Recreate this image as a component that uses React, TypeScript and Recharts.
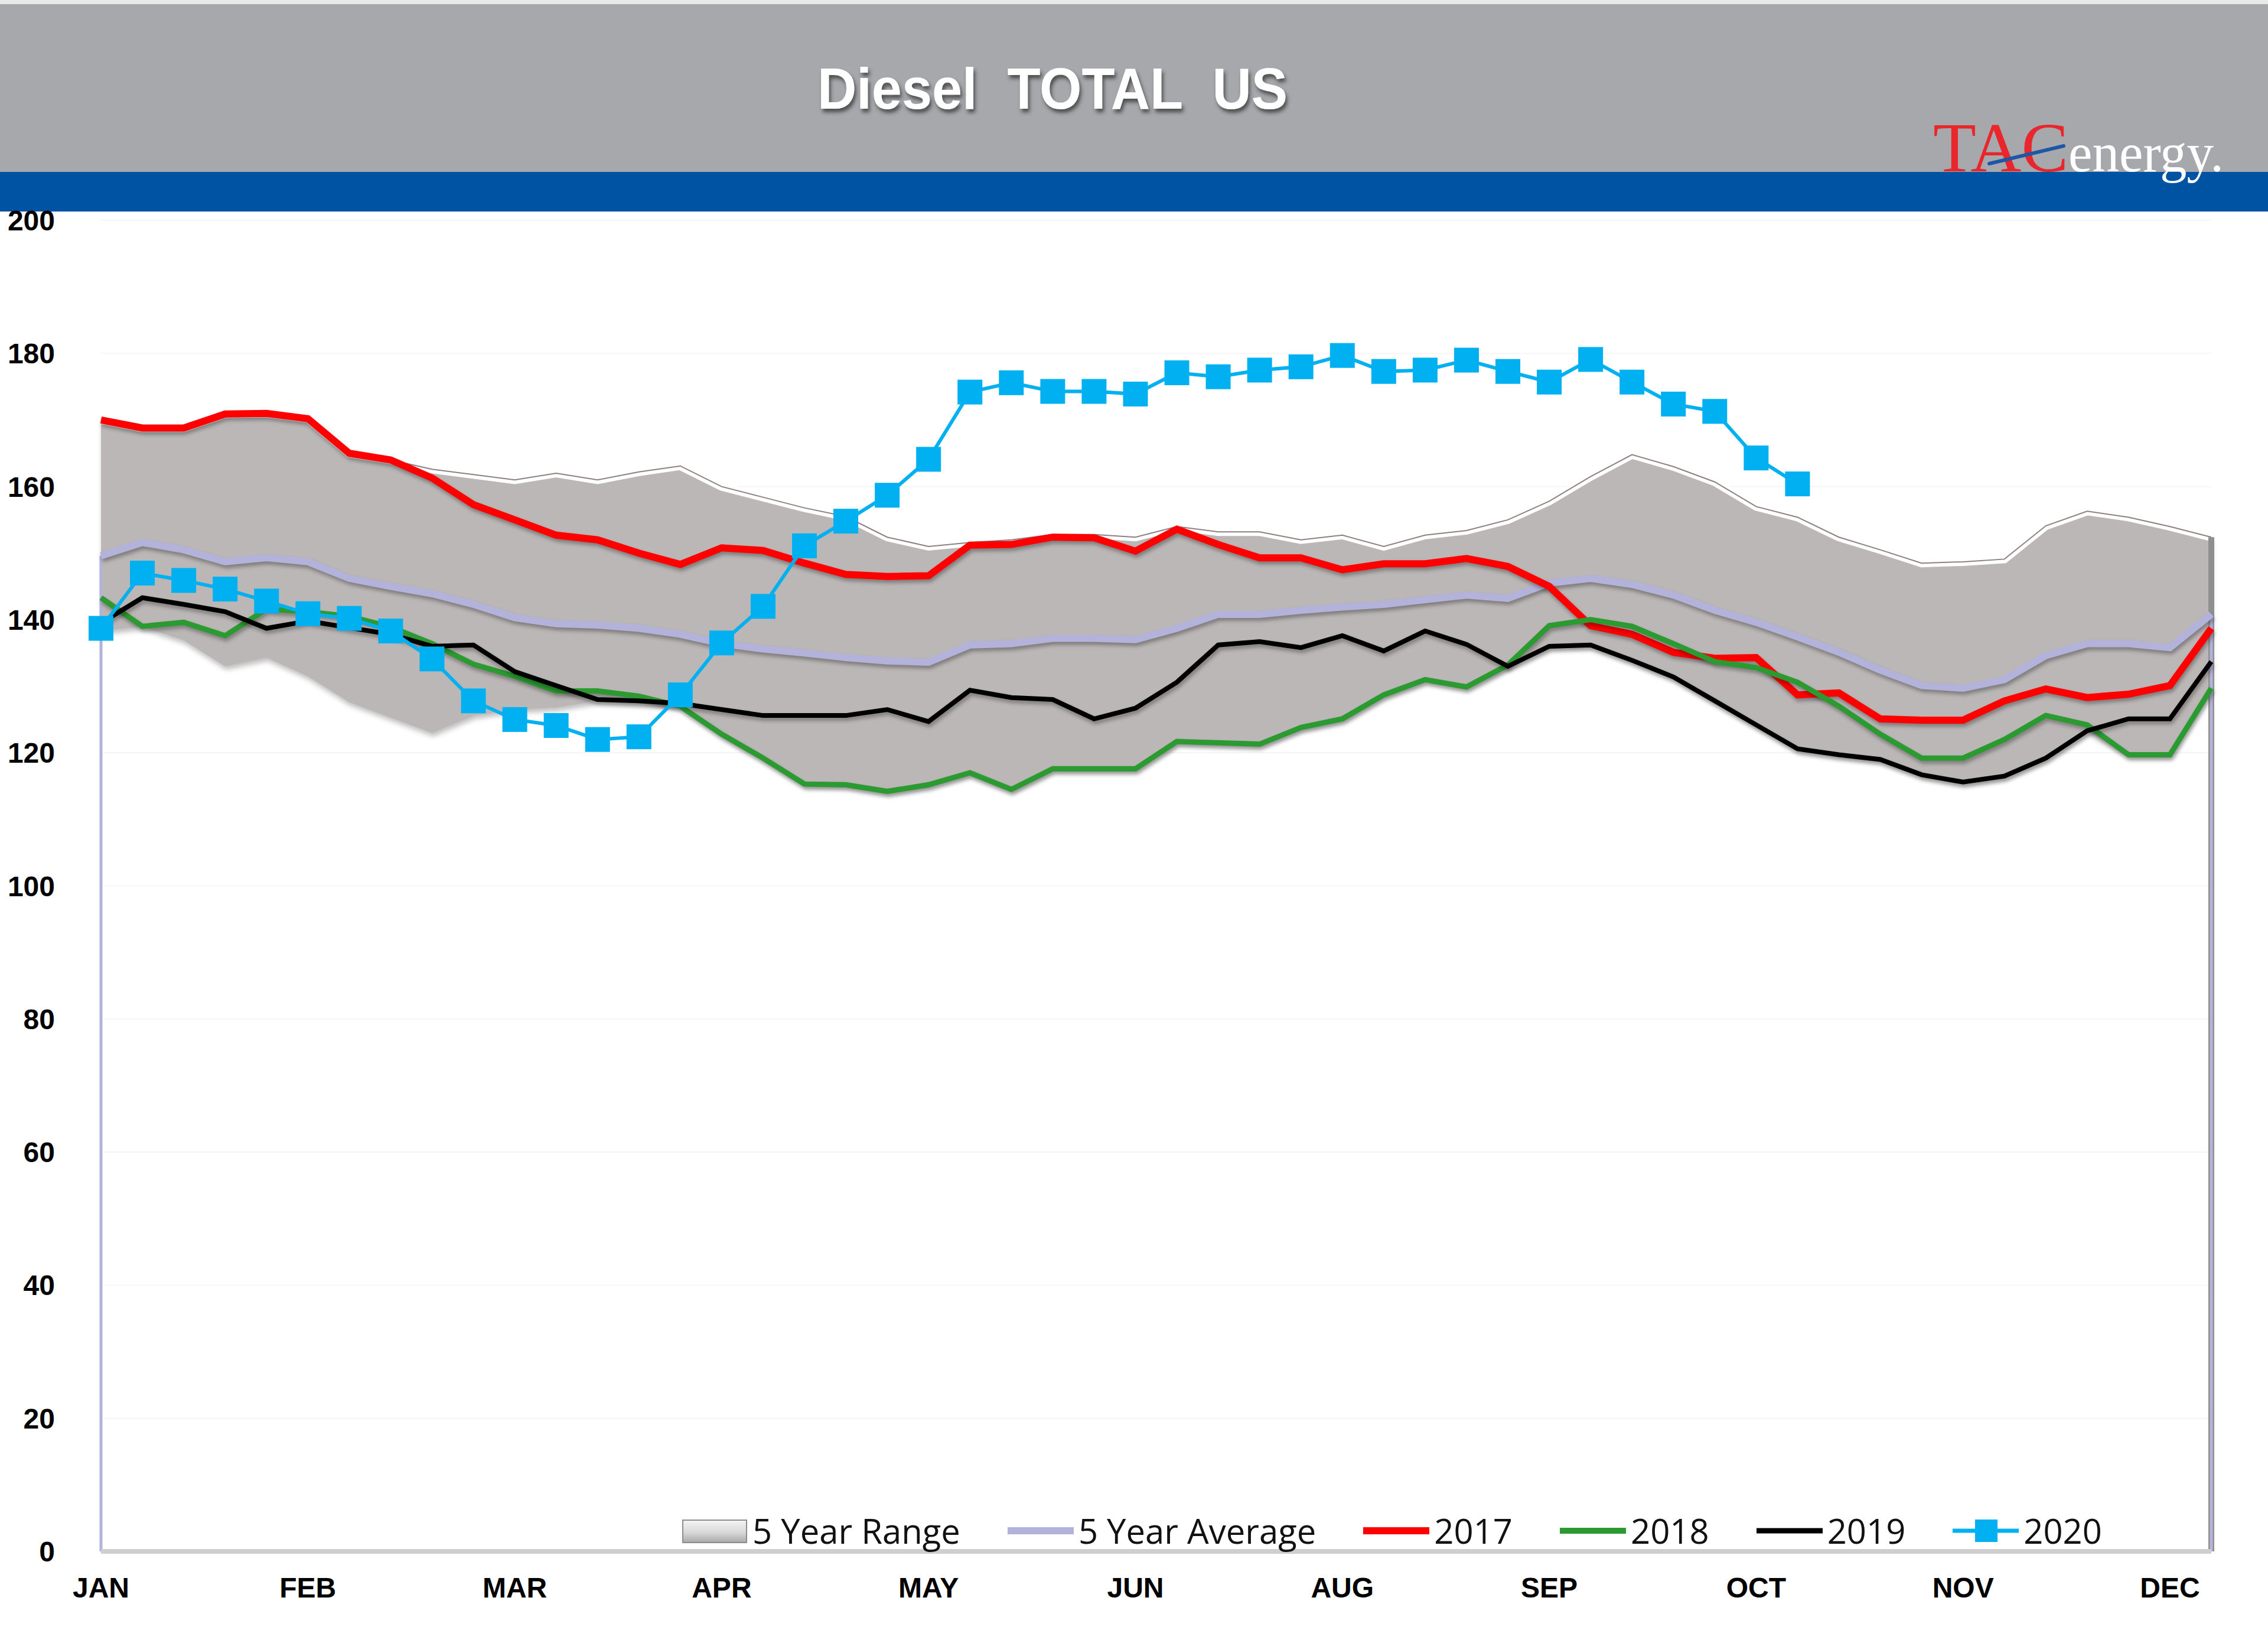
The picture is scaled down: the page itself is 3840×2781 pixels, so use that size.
import React from "react";
import {
  ComposedChart,
  Area,
  Line,
  XAxis,
  YAxis,
  CartesianGrid,
  Legend,
  ReferenceLine,
} from "recharts";

// ---------- DATA ----------
const weeks = [
  1, 2, 3, 4, 5, 6, 7, 8, 9, 10, 11, 12, 13, 14, 15, 16, 17, 18, 19, 20, 21, 22, 23, 24, 25, 26,
  27, 28, 29, 30, 31, 32, 33, 34, 35, 36, 37, 38, 39, 40, 41, 42, 43, 44, 45, 46, 47, 48, 49, 50, 51, 52,
];
const monthLabels = ["JAN", "FEB", "MAR", "APR", "MAY", "JUN", "AUG", "SEP", "OCT", "NOV", "DEC"];
const yTicks = [0, 20, 40, 60, 80, 100, 120, 140, 160, 180, 200];

const rangeLow = [
  138.3, 139, 136.9, 133, 134.3, 131.5, 127.6, 125.3, 123, 125.6, 126.5, 126.8, 127.8, 127.5, 127,
  122.8, 119.2, 115.3, 115.2, 114.2, 115.2, 117, 114.5, 117.6, 117.6, 117.6, 121.7, 121.5, 121.3,
  123.8, 125.1, 128.7, 131, 129.9, 133, 136, 136.2, 133.9, 131.4, 127.8, 124.2, 120.6, 119.7, 119,
  116.7, 115.6, 116.5, 119.2, 123.3, 119.7, 119.7, 129.7,
];
const rangeHigh = [
  170, 168.8, 168.8, 170.9, 171, 170.2, 165, 164, 162.6, 161.8, 161, 162, 161, 162.2, 163.1, 160,
  158.4, 156.8, 155.5, 152.4, 151, 151.6, 152, 152.8, 152.8, 152.4, 154, 153.2, 153.2, 152, 152.7,
  151, 152.7, 153.4, 155, 157.8, 161.5, 164.8, 163, 160.7, 157, 155.4, 152.4, 150.5, 148.5, 148.7,
  149.1, 154.1, 156.3, 155.4, 154, 152.4,
];
const avg5 = [
  149.6, 151.6, 150.5, 148.7, 149.3, 148.7, 146.2, 145, 143.9, 142.3, 140.3, 139.4, 139.2, 138.7,
  137.8, 136.4, 135.6, 135, 134.3, 133.8, 133.6, 136.2, 136.4, 137.2, 137.2, 137, 138.7, 140.8,
  140.8, 141.4, 141.9, 142.3, 143, 143.7, 143.2, 145.5, 146.2, 145.3, 143.7, 141.4, 139.6, 137.4,
  135.1, 132.4, 130.1, 129.7, 131, 134.6, 136.4, 136.4, 135.8, 140.8,
];
const s2017 = [
  170, 168.8, 168.8, 170.9, 171, 170.2, 165, 164, 161.3, 157.3, 155, 152.7, 152, 150, 148.3, 150.8,
  150.4, 148.5, 146.8, 146.5, 146.6, 151.2, 151.3, 152.4, 152.3, 150.3, 153.6, 151.3, 149.3, 149.3,
  147.5, 148.4, 148.4, 149.2, 148, 145, 139.1, 137.8, 135.1, 134.2, 134.3, 128.7, 129, 125.1, 124.9,
  124.9, 127.8, 129.6, 128.3, 128.8, 130.1, 138.7,
];
const s2018 = [
  143.3, 139, 139.6, 137.6, 141.6, 141.2, 140.5, 138.9, 136.4, 133.3, 131.5, 129.3, 129.3, 128.5,
  127, 122.8, 119.2, 115.3, 115.2, 114.2, 115.2, 117, 114.5, 117.6, 117.6, 117.6, 121.7, 121.5,
  121.3, 123.8, 125.1, 128.7, 131, 129.9, 133.2, 139.1, 140, 139, 136.4, 133.7, 132.8, 130.6, 127,
  122.8, 119.2, 119.2, 122, 125.6, 124.2, 119.7, 119.7, 129.7,
];
const s2019 = [
  139.5, 143.3, 142.3, 141.2, 138.7, 139.8, 138.8, 137.8, 136, 136.2, 132.2, 130.1, 128, 127.8,
  127.4, 126.5, 125.6, 125.6, 125.6, 126.5, 124.7, 129.4, 128.3, 128, 125.1, 126.7, 130.6, 136.2,
  136.7, 135.8, 137.6, 135.3, 138.3, 136.3, 133, 136, 136.2, 133.9, 131.4, 127.8, 124.2, 120.6,
  119.7, 119, 116.7, 115.6, 116.5, 119.2, 123.3, 125.1, 125.1, 133.7,
];
const s2020 = [
  138.7, 147, 145.9, 144.6, 142.8, 140.9, 140.2, 138.3, 134.1, 127.8, 125, 124.1, 122, 122.4, 128.7,
  136.5, 142, 151.1, 154.8, 158.7, 164.1, 174.2, 175.6, 174.3, 174.3, 173.9, 177.1, 176.5, 177.5,
  178, 179.7, 177.3, 177.5, 179, 177.3, 175.7, 179.1, 175.7, 172.4, 171.3, 164.3, 160.4,
];

const seriesNames = ["5 Year Range", "5 Year Average", "2017", "2018", "2019", "2020"];

const data = weeks.map((w, i) => ({
  week: w,
  range: [rangeLow[i], rangeHigh[i]],
  high: rangeHigh[i],
  avg: avg5[i],
  y2017: s2017[i],
  y2018: s2018[i],
  y2019: s2019[i],
  y2020: i < s2020.length ? s2020[i] : null,
}));

// ---------- STYLE ----------
const C = {
  range: "#bbb7b6",
  avg: "#b2b2db",
  y2017: "#ff0000",
  y2018: "#2b9a30",
  y2019: "#000000",
  y2020: "#00b0f0",
};

const monthTick = (w: number) =>
  (w - 1) % 5 === 0 && monthLabels[(w - 1) / 5] ? monthLabels[(w - 1) / 5] : "";

const SquareDot = (props: any) => {
  const { cx, cy, index } = props;
  if (cx == null || cy == null || Number.isNaN(cx) || Number.isNaN(cy)) return <g key={`d${index}`} />;
  return <rect key={`d${index}`} x={cx - 21} y={cy - 21} width={42} height={42} fill={C.y2020} />;
};

const legendDefs = [
  { name: seriesNames[0], kind: "range", color: C.range, w: 0 },
  { name: seriesNames[1], kind: "line", color: C.avg, w: 12 },
  { name: seriesNames[2], kind: "line", color: C.y2017, w: 12 },
  { name: seriesNames[3], kind: "line", color: C.y2018, w: 10 },
  { name: seriesNames[4], kind: "line", color: C.y2019, w: 9 },
  { name: seriesNames[5], kind: "marker", color: C.y2020, w: 7 },
];

const renderLegend = () => (
  <div style={{ display: "flex", alignItems: "center", fontFamily: "'Open Sans', sans-serif", fontSize: 58, color: "#111" }}>
    {legendDefs.map((d) => (
      <div key={d.name} style={{ display: "flex", alignItems: "center", marginRight: 78 }}>
        <svg width={116} height={48} style={{ display: "block" }}>
          <defs>
            <linearGradient id="lgRange" x1="0" y1="0" x2="0" y2="1">
              <stop offset="0" stopColor="#f4f4f4" />
              <stop offset="0.55" stopColor="#d8d8d8" />
              <stop offset="1" stopColor="#a9a9a9" />
            </linearGradient>
          </defs>
          {d.kind === "range" && (
            <rect x={4} y={6} width={108} height={38} fill="url(#lgRange)" stroke="#8c8c8c" strokeWidth={2} />
          )}
          {d.kind === "line" && (
            <line x1={2} y1={24} x2={114} y2={24} stroke={d.color} strokeWidth={d.w} />
          )}
          {d.kind === "marker" && (
            <g>
              <line x1={2} y1={24} x2={114} y2={24} stroke={d.color} strokeWidth={d.w} />
              <rect x={40} y={5} width={38} height={38} fill={d.color} />
            </g>
          )}
        </svg>
        <span style={{ marginLeft: 6, lineHeight: 1 }}>{d.name}</span>
      </div>
    ))}
  </div>
);

const Header = () => (
  <svg width={3840} height={380} style={{ position: "absolute", left: 0, top: 0 }}>
    <defs>
      <filter id="titleShadow" x="-10%" y="-30%" width="120%" height="170%">
        <feDropShadow dx="3" dy="6" stdDeviation="3" floodColor="#303030" floodOpacity="0.75" />
      </filter>
    </defs>
    <rect x={0} y={0} width={3840} height={7} fill="#e9e9ea" />
    <rect x={0} y={7} width={3840} height={285} fill="#a7a8ab" />
    <rect x={0} y={291} width={3840} height={67} fill="#0052a2" />
    <text
      x={1782}
      y={184}
      textAnchor="middle"
      fontFamily="'Liberation Sans', Arial, sans-serif"
      fontWeight="bold"
      fontSize={98}
      fill="#ffffff"
      textLength={796}
      lengthAdjust="spacingAndGlyphs"
      filter="url(#titleShadow)"
      style={{ whiteSpace: "pre" }}
    >
      {"Diesel  TOTAL  US"}
    </text>
    <text
      x={3273}
      y={290}
      fontFamily="'Liberation Serif', 'Times New Roman', serif"
      fontSize={118}
      fill="#e8262b"
      textLength={229}
      lengthAdjust="spacingAndGlyphs"
    >
      TAC
    </text>
    <line x1={3368} y1={277} x2={3494} y2={247} stroke="#1f56a8" strokeWidth={6} strokeLinecap="round" />
    <text
      x={3502}
      y={290}
      fontFamily="'Liberation Serif', 'Times New Roman', serif"
      fontSize={94}
      fill="#ffffff"
      textLength={263}
      lengthAdjust="spacingAndGlyphs"
    >
      energy.
    </text>
  </svg>
);

const css = `
.shadowed .recharts-curve { filter: drop-shadow(2px 5px 3px rgba(0,0,0,0.32)); }
.rangeShadow .recharts-area-area { filter: drop-shadow(2px 6px 4px rgba(0,0,0,0.25)); }
`;

export default function App() {
  return (
    <div style={{ position: "absolute", left: 0, top: 0, width: 3840, height: 2781, background: "#ffffff", overflow: "hidden" }}>
      <style>{css}</style>
      <Header />
      <div style={{ position: "absolute", left: 0, top: 0 }}>
        <ComposedChart
          width={3840}
          height={2781}
          data={data}
          margin={{ top: 373, right: 96, bottom: 35, left: 0 }}
        >
          <CartesianGrid vertical={false} stroke="#f5f5f5" strokeWidth={2} />
          <XAxis
            dataKey="week"
            type="category"
            interval={0}
            tickFormatter={monthTick}
            axisLine={{ stroke: "#cfcfcf", strokeWidth: 8 }}
            tickLine={false}
            tickSize={0}
            tickMargin={44}
            height={120}
            tick={{ fontFamily: "'Liberation Sans', Arial, sans-serif", fontWeight: "bold", fontSize: 48, fill: "#000" }}
          />
          <YAxis
            type="number"
            domain={[0, 200]}
            ticks={yTicks}
            interval={0}
            width={171}
            axisLine={false}
            tickLine={false}
            tickSize={0}
            tickMargin={78}
            tick={{ fontFamily: "'Liberation Sans', Arial, sans-serif", fontWeight: "bold", fontSize: 48, fill: "#000" }}
          />
          <Legend
            layout="horizontal"
            verticalAlign="middle"
            align="center"
            content={renderLegend}
            wrapperStyle={{ left: 1152, top: 2562, width: 2600, height: 70 }}
          />
          <Area
            className="rangeShadow"
            type="linear"
            dataKey="range"
            name={seriesNames[0]}
            fill={C.range}
            fillOpacity={1}
            stroke="none"
            isAnimationActive={false}
            activeDot={false}
          />
          <Line type="linear" dataKey="high" stroke="#ffffff" strokeWidth={14} dot={false} isAnimationActive={false} legendType="none" />
          <Line type="linear" dataKey="high" stroke="#8d8080" strokeWidth={2} dot={false} isAnimationActive={false} legendType="none" />
          <ReferenceLine
            segment={[{ x: weeks[weeks.length - 1], y: 0 }, { x: weeks[weeks.length - 1], y: rangeHigh[rangeHigh.length - 1] }]}
            stroke="#8f8f8f"
            strokeWidth={10}
          />
          <ReferenceLine segment={[{ x: weeks[0], y: 0 }, { x: weeks[0], y: avg5[0] }]} stroke={C.avg} strokeWidth={5} />
          <ReferenceLine
            segment={[{ x: weeks[weeks.length - 1], y: 0 }, { x: weeks[weeks.length - 1], y: avg5[avg5.length - 1] }]}
            stroke={C.avg}
            strokeWidth={5}
          />
          <Line className="shadowed" type="linear" dataKey="avg" name={seriesNames[1]} stroke={C.avg} strokeWidth={12} dot={false} isAnimationActive={false} />
          <Line className="shadowed" type="linear" dataKey="y2017" name={seriesNames[2]} stroke={C.y2017} strokeWidth={12} dot={false} isAnimationActive={false} />
          <Line className="shadowed" type="linear" dataKey="y2018" name={seriesNames[3]} stroke={C.y2018} strokeWidth={9} dot={false} isAnimationActive={false} />
          <Line className="shadowed" type="linear" dataKey="y2019" name={seriesNames[4]} stroke={C.y2019} strokeWidth={8} dot={false} isAnimationActive={false} />
          <Line
            type="linear"
            dataKey="y2020"
            name={seriesNames[5]}
            stroke={C.y2020}
            strokeWidth={6}
            dot={SquareDot}
            connectNulls={false}
            isAnimationActive={false}
          />
        </ComposedChart>
      </div>
    </div>
  );
}
